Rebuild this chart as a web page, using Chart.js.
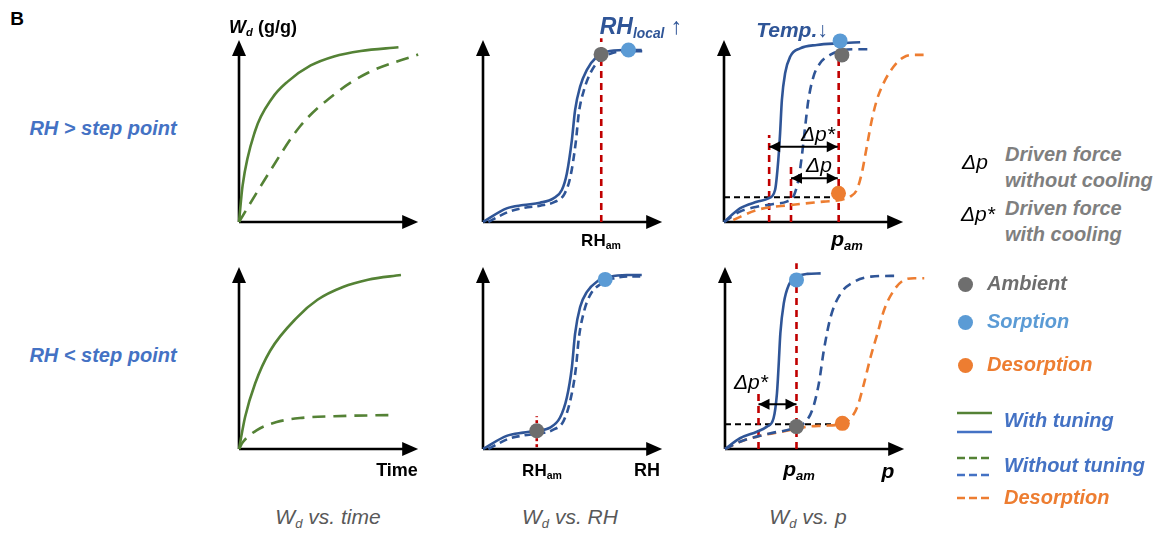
<!DOCTYPE html>
<html>
<head>
<meta charset="utf-8">
<script src="https://cdn.jsdelivr.net/npm/chart.js@4.4.1/dist/chart.umd.min.js"></script>
<style>
  body { margin: 0; background: #fff; }
  #wrap { position: relative; width: 1165px; height: 533px; overflow: hidden; font-family: Arial, "Liberation Sans", sans-serif; }
  canvas { position: absolute; }
  .lbl { position: absolute; white-space: nowrap; transform: translate(-50%, -50%); line-height: 1; }
  .row { color: #4472C4; font-weight: bold; font-style: italic; font-size: 20px; }
  .ttl { color: #595959; font-style: italic; font-size: 21px; }
  .ax { color: #000; font-weight: bold; font-size: 18px; }
  .gr { color: #7F7F7F; font-weight: bold; font-style: italic; font-size: 20px; line-height: 1.28; }
  .dot { position: absolute; width: 15px; height: 15px; border-radius: 50%; }
  sub { font-size: 62%; vertical-align: -0.25em; }
</style>
</head>
<body>
<div id="wrap">
  <canvas id="c1" width="255" height="222" style="left:219px;top:20px"></canvas>
  <canvas id="c2" width="255" height="222" style="left:463px;top:20px"></canvas>
  <canvas id="c3" width="255" height="222" style="left:704px;top:20px"></canvas>
  <canvas id="c4" width="255" height="222" style="left:219px;top:247px"></canvas>
  <canvas id="c5" width="255" height="222" style="left:463px;top:247px"></canvas>
  <canvas id="c6" width="255" height="222" style="left:705px;top:247px"></canvas>

  <div class="lbl" style="left:17px;top:18px;font-weight:bold;font-size:19px;">B</div>
  <div class="lbl row" style="left:103px;top:128px;">RH &gt; step point</div>
  <div class="lbl row" style="left:103px;top:355px;">RH &lt; step point</div>

  <div class="lbl ax" style="left:263px;top:28px;"><i>W<sub>d</sub></i> (g/g)</div>
  <div class="lbl ax" style="left:601px;top:241px;font-size:17px;">RH<sub>am</sub></div>
  <div class="lbl ax" style="left:847px;top:240px;font-size:21px;font-style:italic;">p<sub>am</sub></div>
  <div class="lbl" style="left:818px;top:133px;font-size:21px;font-style:italic;">&Delta;p*</div>
  <div class="lbl" style="left:819px;top:164px;font-size:21px;font-style:italic;">&Delta;p</div>
  <div class="lbl" style="left:641px;top:28px;color:#2F5597;font-weight:bold;font-style:italic;font-size:23px;">RH<sub style="font-size:60%">local</sub> <span style="font-style:normal">&#8593;</span></div>
  <div class="lbl" style="left:792px;top:29px;color:#2F5597;font-weight:bold;font-style:italic;font-size:21px;">Temp.<span style="font-style:normal">&#8595;</span></div>

  <div class="lbl ax" style="left:397px;top:470px;">Time</div>
  <div class="lbl ax" style="left:542px;top:471px;font-size:17px;">RH<sub>am</sub></div>
  <div class="lbl ax" style="left:647px;top:470px;">RH</div>
  <div class="lbl ax" style="left:799px;top:470px;font-size:21px;font-style:italic;">p<sub>am</sub></div>
  <div class="lbl ax" style="left:888px;top:470px;font-size:21px;font-style:italic;">p</div>
  <div class="lbl" style="left:751px;top:381px;font-size:21px;font-style:italic;">&Delta;p*</div>

  <div class="lbl ttl" style="left:328px;top:518px;">W<sub>d</sub> vs. time</div>
  <div class="lbl ttl" style="left:570px;top:518px;">W<sub>d</sub> vs. RH</div>
  <div class="lbl ttl" style="left:808px;top:518px;">W<sub>d</sub> vs. p</div>

  <!-- right legend -->
  <div class="lbl" style="left:975px;top:161px;font-size:21px;font-style:italic;">&Delta;p</div>
  <div class="gr" style="position:absolute;left:1005px;top:142px;">Driven force<br>without cooling</div>
  <div class="lbl" style="left:978px;top:213px;font-size:21px;font-style:italic;">&Delta;p*</div>
  <div class="gr" style="position:absolute;left:1005px;top:196px;">Driven force<br>with cooling</div>

  <div class="dot" style="left:958px;top:277px;background:#6E6E6E"></div>
  <div class="lbl gr" style="left:987px;top:284px;transform:translateY(-50%);color:#6E6E6E;">Ambient</div>
  <div class="dot" style="left:958px;top:315px;background:#5B9BD5"></div>
  <div class="lbl gr" style="left:987px;top:322px;transform:translateY(-50%);color:#5B9BD5;">Sorption</div>
  <div class="dot" style="left:958px;top:358px;background:#ED7D31"></div>
  <div class="lbl gr" style="left:987px;top:365px;transform:translateY(-50%);color:#ED7D31;">Desorption</div>

  <svg style="position:absolute;left:955px;top:405px" width="40" height="100">
    <line x1="2" y1="8" x2="37" y2="8" stroke="#548235" stroke-width="2.5"/>
    <line x1="2" y1="27" x2="37" y2="27" stroke="#4472C4" stroke-width="2.5"/>
    <line x1="2" y1="53" x2="37" y2="53" stroke="#548235" stroke-width="2.5" stroke-dasharray="8,4"/>
    <line x1="2" y1="70" x2="37" y2="70" stroke="#4472C4" stroke-width="2.5" stroke-dasharray="8,4"/>
    <line x1="2" y1="93" x2="37" y2="93" stroke="#ED7D31" stroke-width="2.5" stroke-dasharray="8,4"/>
  </svg>
  <div class="lbl gr" style="left:1004px;top:421px;transform:translateY(-50%);color:#4472C4;">With tuning</div>
  <div class="lbl gr" style="left:1004px;top:466px;transform:translateY(-50%);color:#4472C4;">Without tuning</div>
  <div class="lbl gr" style="left:1004px;top:498px;transform:translateY(-50%);color:#ED7D31;">Desorption</div>
</div>

<script>
// x: 0 = origem, 100 = ponta da seta; y: 0 = origem, 100 = ponta da seta

// W_d vs. time
const timeHiTuned   = [[0,0],[2,20],[9,50],[18.5,68],[27,77],[40,86],[53,91],[68,94],[89,96]];
const timeHiUntuned = [[0,0],[15.7,25.4],[34,52.5],[53,70],[72,82],[100,92]];
const timeLoTuned   = [[0,0],[3.4,17.6],[9,36],[17.4,54],[32.6,72.5],[43.8,82],[58,89],[72,93],[90.4,95.6]];
const timeLoUntuned = [[0,0],[2.2,3.8],[10,10.4],[21,14.8],[34,17],[53,18],[86.5,18.7]];

// W_d vs. RH
const rhHiTuned   = [[0,0],[13.2,7.5],[22.5,9.3],[31.8,10.6],[39.3,13],[44,17.6],[46.8,26.7],[49.6,45],[51.4,61.5],[54.2,74.4],[57.9,83.5],[63.5,90.8],[69.1,93.6],[78.4,94.5],[88.6,94.5]];
const rhHiUntuned = [[3,0],[14,5.5],[23,7.8],[32,9],[40,11],[45.5,15.5],[48.8,25],[51.8,44],[53.5,60],[56.5,73],[60,82],[65.5,89.5],[71,92.5],[80,93.8],[90,93.8]];
const rhLoTuned   = [[0,0],[13.2,7.2],[22.5,9],[30,10],[37.4,11.8],[43,17.3],[46.8,28.3],[49.6,44.9],[51.4,63.4],[54.2,78],[58,86.3],[63.5,91.9],[70.9,94.7],[80.2,95.6],[88.6,95.6]];
const rhLoUntuned = [[3,0],[14,5.5],[23,7.5],[31,8.5],[39,10.5],[45,15.5],[48.8,27],[51.8,44],[53.5,61],[56.5,76],[60,85],[65.5,90.5],[72,93.5],[81,94.8],[90,94.8]];

// W_d vs. p
const pHiTuned   = [[0,0],[8.9,7.5],[18.3,11.1],[24.8,13],[28.5,17.6],[30.3,34],[31.3,48.7],[32.3,67],[34.1,81.7],[36.9,90.8],[42.5,95.4],[51.8,97.3],[64.8,98.2],[76,98.8]];
const pHiUntuned = [[0,0],[8.9,5.7],[18.3,8.4],[27.6,9.9],[35,11.2],[38.7,13.9],[41.5,23.1],[43.4,35.9],[45.3,52.4],[47.1,67],[49.9,79.8],[53.6,87.2],[59.2,91.8],[66.6,94.5],[74.1,94.9],[81.6,94.9]];
const pHiDesorb  = [[5.2,1.1],[18.3,6.6],[36.9,9.3],[55.5,11.2],[64.8,12.1],[70.4,13.9],[74.1,17.6],[76.9,26.8],[79.7,41.4],[82.5,56],[85.3,67],[89,76.2],[94.6,85.3],[100.2,90.5],[105.8,91.8],[111.4,91.8]];
const pLoTuned   = [[0,0],[8.4,5.9],[17.8,9.5],[23.4,12.3],[27.1,16.9],[29,30.6],[29.9,45.2],[30.9,63.6],[32.8,80],[35.6,90.1],[40.3,94.7],[45.9,96.2],[53.4,96.5]];
const pLoUntuned = [[0,0],[8.4,4],[17.8,6.8],[27.1,9],[36.5,10.8],[44,14.1],[48.7,21.4],[52.4,36.1],[55.2,54.4],[59,72.7],[64.6,85.5],[72.1,91.9],[81.5,94.7],[92.7,95.1],[96.6,95.1]];
const pLoDesorb  = [[0,0],[8.4,4],[17.8,6.8],[36.5,10.4],[45.9,12.3],[55.2,12.8],[64.6,13.6],[70.2,16.9],[73.9,23.3],[77.6,36.1],[81.3,50.7],[85.1,63.5],[88.8,76.4],[94.4,87.4],[100,92.9],[105.6,93.8],[111.2,93.8]];

// pontos: [x, y]  (ambiente, sorção, dessorção)
const rhHiDots = { ambient: [65.9, 92.1], sorption: [81.2, 94.5] };
const rhLoDots = { ambient: [30, 10], sorption: [68.2, 93.2] };
const pHiDots  = { ambient: [65.8, 91.8], sorption: [64.8, 99.5], desorption: [63.9, 15.8] };
const pLoDots  = { ambient: [39.9, 12.3], sorption: [39.9, 92.9], desorption: [65.5, 14.1] };

// linhas verticais vermelhas: [x, y inicial, y final]
const rhHiMarks = [[66, 0, 101]];
const rhLoMarks = [[30, 1, 18]];
const pHiMarks  = [[25.2, 0, 47.8], [37.4, 0, 31.3], [64, 0, 92]];
const pLoMarks  = [[18.7, 0, 33], [39.9, 0, 102]];

// linha horizontal preta tracejada: [y, x final]
const pHiLevel = [13.6, 63];
const pLoLevel = [13.6, 65.5];

// setas duplas Δp / Δp*: [y, x inicial, x final]
const pHiSpans = [[41.4, 25.2, 63.5], [24, 37.4, 63.5]];
const pLoSpans = [[24.6, 18.7, 39.9]];

const GREEN = "#548235";
const BLUE = "#2F5597";
const RED = "#C00000";
const DOT_COLORS = { ambient: "#6E6E6E", sorption: "#5B9BD5", desorption: "#ED7D31" };

const toXY = arr => arr.map(([x, y]) => ({ x, y }));

function curve(arr, color, dash) {
    return {
        data: toXY(arr), borderColor: color, borderWidth: 2.6, borderDash: dash || [],
        pointRadius: 0, cubicInterpolationMode: "monotone", fill: false, clip: false, order: 2
    };
}

function dots(obj) {
    const keys = Object.keys(obj);
    return {
        data: keys.map(k => ({ x: obj[k][0], y: obj[k][1] })),
        showLine: false, pointRadius: 7.5, pointBorderWidth: 0,
        pointBackgroundColor: keys.map(k => DOT_COLORS[k]), clip: false, order: 0
    };
}

function marks(list, dash) {
    return list.map(([x, y0, y1]) => ({
        data: [{ x, y: y0 }, { x, y: y1 }], borderColor: RED, borderWidth: 2.6,
        borderDash: dash || [7, 5], pointRadius: 0, clip: false, order: 3
    }));
}

function level([y, x1]) {
    return {
        data: [{ x: 0, y }, { x: x1, y }], borderColor: "#000", borderWidth: 2,
        borderDash: [6, 4], pointRadius: 0, clip: false, order: 3
    };
}

function spans(list) {
    return list.map(([y, x0, x1]) => ({
        data: [{ x: x0, y }, { x: x1, y }], borderColor: "#000", borderWidth: 2,
        pointRadius: 0, clip: false, order: 1, doubleArrow: true
    }));
}

function head(ctx, x, y, angle, len, half) {
    ctx.save();
    ctx.translate(x, y);
    ctx.rotate(angle);
    ctx.beginPath();
    ctx.moveTo(0, 0);
    ctx.lineTo(-len, -half);
    ctx.lineTo(-len, half);
    ctx.closePath();
    ctx.fill();
    ctx.restore();
}

// eixos com setas e setas duplas
const arrowPlugin = {
    id: "arrows",
    beforeDatasetsDraw(chart) {
        const ctx = chart.ctx;
        const sx = chart.scales.x, sy = chart.scales.y;
        const ox = sx.getPixelForValue(0), oy = sy.getPixelForValue(0);
        const xt = sx.getPixelForValue(100), yt = sy.getPixelForValue(100);
        ctx.save();
        ctx.strokeStyle = "#000";
        ctx.fillStyle = "#000";
        ctx.lineWidth = 2.6;
        ctx.beginPath();
        ctx.moveTo(ox, oy); ctx.lineTo(xt - 12, oy);
        ctx.moveTo(ox, oy); ctx.lineTo(ox, yt + 12);
        ctx.stroke();
        head(ctx, xt, oy, 0, 16, 7);
        head(ctx, ox, yt, -Math.PI / 2, 16, 7);
        ctx.restore();
    },
    afterDatasetsDraw(chart) {
        const ctx = chart.ctx;
        ctx.save();
        ctx.fillStyle = "#000";
        chart.data.datasets.forEach((ds, i) => {
            if (!ds.doubleArrow) return;
            const pts = chart.getDatasetMeta(i).data;
            const a = pts[0], b = pts[pts.length - 1];
            head(ctx, a.x, a.y, Math.PI, 11, 5.5);
            head(ctx, b.x, b.y, 0, 11, 5.5);
        });
        ctx.restore();
    }
};

function makeChart(id, datasets) {
    new Chart(document.getElementById(id), {
        type: "line",
        data: { datasets },
        options: {
            animation: false,
            responsive: false,
            devicePixelRatio: 1,
            events: [],
            layout: { padding: { left: 20, right: 20, top: 20, bottom: 20 }, autoPadding: false },
            plugins: { legend: { display: false }, tooltip: { enabled: false } },
            scales: {
                x: { type: "linear", min: 0, max: 120, display: false },
                y: { type: "linear", min: 0, max: 100, display: false }
            }
        },
        plugins: [arrowPlugin]
    });
}

makeChart("c1", [curve(timeHiTuned, GREEN), curve(timeHiUntuned, GREEN, [13, 8])]);
makeChart("c4", [curve(timeLoTuned, GREEN), curve(timeLoUntuned, GREEN, [13, 8])]);

makeChart("c2", [dots(rhHiDots), curve(rhHiTuned, BLUE), curve(rhHiUntuned, BLUE, [8, 5]), ...marks(rhHiMarks)]);
makeChart("c5", [dots(rhLoDots), curve(rhLoTuned, BLUE), curve(rhLoUntuned, BLUE, [8, 5]), ...marks(rhLoMarks, [3, 3])]);

makeChart("c3", [dots(pHiDots), ...spans(pHiSpans), curve(pHiTuned, BLUE), curve(pHiUntuned, BLUE, [9, 6]),
    curve(pHiDesorb, DOT_COLORS.desorption, [9, 6]), ...marks(pHiMarks), level(pHiLevel)]);
makeChart("c6", [dots(pLoDots), ...spans(pLoSpans), curve(pLoTuned, BLUE), curve(pLoUntuned, BLUE, [9, 6]),
    curve(pLoDesorb, DOT_COLORS.desorption, [9, 6]), ...marks(pLoMarks), level(pLoLevel)]);
</script>
</body>
</html>
